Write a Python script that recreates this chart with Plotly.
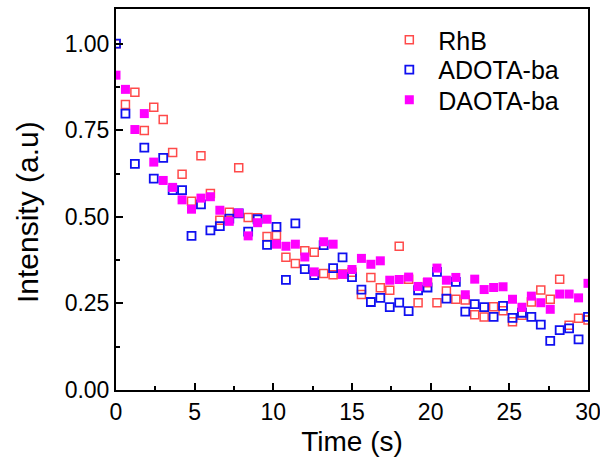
import plotly.graph_objects as go

time_s = [round(0.6 * i, 1) for i in range(51)]

rhb = [1.00, 0.824, 0.860, 0.749, 0.816, 0.781, 0.686, 0.623, 0.545, 0.676,
       0.567, 0.490, 0.513, 0.642, 0.498, 0.497, 0.443, 0.446, 0.383, 0.365,
       0.402, 0.398, 0.336, 0.333, 0.335, 0.340, 0.276, 0.325, 0.295, 0.288,
       0.415, 0.320, 0.252, 0.310, 0.252, 0.286, 0.262, 0.260, 0.217, 0.211,
       0.240, 0.229, 0.197, 0.216, 0.254, 0.289, 0.262, 0.320, 0.187, 0.207,
       0.202]

adota = [1.00, 0.798, 0.653, 0.700, 0.610, 0.670, 0.577, 0.577, 0.445, 0.536,
         0.461, 0.473, 0.495, 0.510, 0.457, 0.493, 0.419, 0.471, 0.318, 0.481,
         0.349, 0.332, 0.418, 0.352, 0.383, 0.326, 0.290, 0.254, 0.266, 0.239,
         0.252, 0.228, 0.288, 0.296, 0.341, 0.264, 0.312, 0.226, 0.248, 0.239,
         0.211, 0.243, 0.208, 0.223, 0.211, 0.189, 0.142, 0.173, 0.178, 0.146,
         0.211]

daota = [0.909, 0.868, 0.752, 0.798, 0.658, 0.605, 0.585, 0.549, 0.522, 0.554,
         0.558, 0.519, 0.487, 0.511, 0.445, 0.483, 0.493, 0.421, 0.415, 0.421,
         0.384, 0.341, 0.428, 0.421, 0.334, 0.348, 0.380, 0.363, 0.373, 0.317,
         0.319, 0.326, 0.299, 0.312, 0.352, 0.317, 0.325, 0.275, 0.320, 0.290,
         0.296, 0.298, 0.262, 0.239, 0.271, 0.252, 0.233, 0.277, 0.277, 0.266,
         0.308]

x_ticks = [0, 5, 10, 15, 20, 25, 30]
y_ticks = [0.00, 0.25, 0.50, 0.75, 1.00]
y_tick_labels = ["0.00", "0.25", "0.50", "0.75", "1.00"]

FONT = "Arial, Liberation Sans, sans-serif"

fig = go.Figure()
fig.add_trace(go.Scatter(
    x=time_s, y=rhb, mode="markers", name="RhB", legend="legend",
    marker=dict(symbol="square-open", size=8, color="#FF4A4A",
                line=dict(width=1.5, color="#FF4A4A"))))
fig.add_trace(go.Scatter(
    x=time_s, y=adota, mode="markers", name="ADOTA-ba", legend="legend2",
    marker=dict(symbol="square-open", size=8, color="#1010F0",
                line=dict(width=1.8, color="#1010F0"))))
fig.add_trace(go.Scatter(
    x=time_s, y=daota, mode="markers", name="DAOTA-ba", legend="legend3",
    marker=dict(symbol="square", size=9, color="#FF00FF",
                line=dict(width=0))))

leg_common = dict(x=0.56, xanchor="left", yanchor="middle",
                  bgcolor="rgba(0,0,0,0)", font=dict(size=25, family=FONT),
                  itemsizing="trace", itemwidth=48)

fig.update_layout(
    width=600, height=467,
    margin=dict(l=116, r=12, t=9, b=77, autoexpand=False),
    paper_bgcolor="white", plot_bgcolor="white",
    font=dict(family=FONT, color="black"),
    legend=dict(y=0.9186, **leg_common),
    legend2=dict(y=0.840, **leg_common),
    legend3=dict(y=0.761, **leg_common),
    showlegend=True,
    annotations=[dict(text="Intensity (a.u)", textangle=-90, showarrow=False,
                      xref="paper", yref="paper", x=-0.1886, y=0.467,
                      xanchor="center", yanchor="middle",
                      font=dict(size=30, family=FONT, color="black"))],
)
fig.update_xaxes(
    range=[0, 30], tickvals=x_ticks, ticks="inside", ticklen=7, tickwidth=1.5,
    tickcolor="black", showline=True, linecolor="black", linewidth=2,
    mirror=True, showgrid=False, zeroline=False, automargin=False,
    ticklabeloverflow="allow",
    tickfont=dict(size=23, family=FONT),
    minor=dict(dtick=2.5, ticks="inside", ticklen=4, tickwidth=1.5, tickcolor="black", showgrid=False),
    title=dict(text="Time (s)", font=dict(size=28, family=FONT), standoff=8),
)
fig.update_yaxes(
    range=[0, 1.1], tickvals=y_ticks, ticktext=y_tick_labels, ticks="inside",
    ticklen=7, tickwidth=1.5, tickcolor="black", showline=True, linecolor="black",
    linewidth=2, mirror=True, showgrid=False, zeroline=False, automargin=False,
    ticklabeloverflow="allow",
    tickfont=dict(size=23, family=FONT),
    minor=dict(dtick=0.125, ticks="inside", ticklen=4, tickwidth=1.5, tickcolor="black", showgrid=False),
)

fig.write_html("out.html", config={"displayModeBar": False},
               post_script="document.body.style.margin='0';")
